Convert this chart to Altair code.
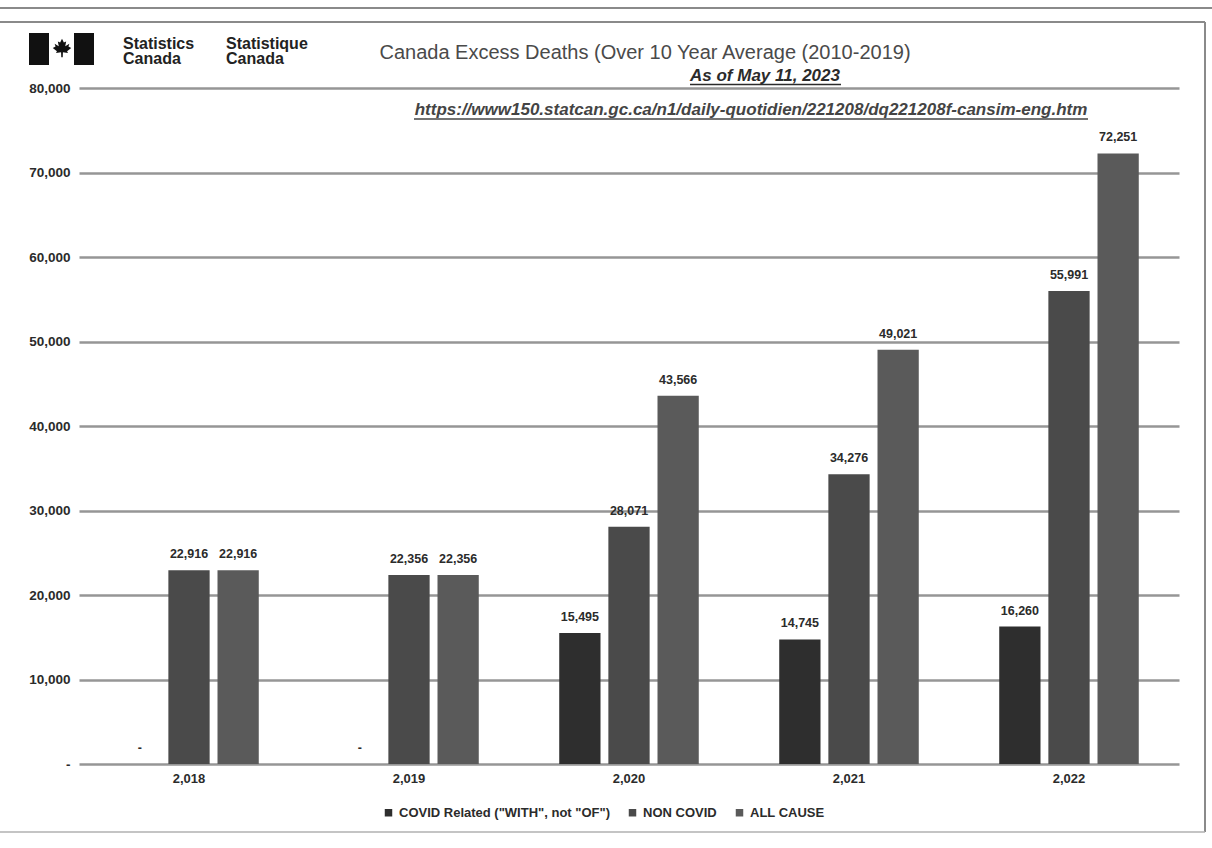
import altair as alt
import pandas as pd

# ---------------- data ----------------
years = ["2,018", "2,019", "2,020", "2,021", "2,022"]
series = ['COVID Related ("WITH", not "OF")', "NON COVID", "ALL CAUSE"]
covid_related = [0, 0, 15495, 14745, 16260]
non_covid = [22916, 22356, 28071, 34276, 55991]
all_cause = [22916, 22356, 43566, 49021, 72251]
y_ticks = [0, 10000, 20000, 30000, 40000, 50000, 60000, 70000, 80000]

title_text = "Canada Excess Deaths (Over 10 Year Average (2010-2019)"
subtitle_text = "As of May 11, 2023"
source_url = "https://www150.statcan.gc.ca/n1/daily-quotidien/221208/dq221208f-cansim-eng.htm"
agency_en = ["Statistics", "Canada"]
agency_fr = ["Statistique", "Canada"]

rows = []
for i, yr in enumerate(years):
    for s, vals in zip(series, [covid_related, non_covid, all_cause]):
        rows.append({"year": yr, "series": s, "value": vals[i]})
df = pd.DataFrame(rows)

# ---------------- style ----------------
FONT = "Liberation Sans"
W, H = 1100, 676
bar_colors = ["#2e2e2e", "#4a4a4a", "#5a5a5a"]
ink = "#2b2b2b"

base = alt.Chart(df).encode(
    x=alt.X(
        "year:N",
        sort=years,
        scale=alt.Scale(paddingInner=0.33, paddingOuter=0.165),
        axis=alt.Axis(
            title=None, domain=False, ticks=False, labelAngle=0, labelPadding=8,
            labelFontSize=13, labelFontWeight="bold", labelColor=ink, labelFont=FONT,
        ),
    ),
    xOffset=alt.XOffset(
        "series:N", sort=series, scale=alt.Scale(paddingInner=0.16, paddingOuter=0.08)
    ),
)

bars = base.mark_bar().encode(
    y=alt.Y(
        "value:Q",
        scale=alt.Scale(domain=[0, 80000], nice=False),
        axis=alt.Axis(
            title=None, values=y_ticks, domain=False, ticks=False,
            labelExpr="datum.value == 0 ? '-' : format(datum.value, ',')",
            labelPadding=9, labelFontSize=13.5, labelFontWeight="bold",
            labelColor=ink, labelFont=FONT,
            grid=True, gridColor="#969696", gridWidth=2.5,
        ),
    ),
    color=alt.Color(
        "series:N",
        sort=series,
        scale=alt.Scale(domain=series, range=bar_colors),
        legend=alt.Legend(
            title=None, orient="none", legendX=303, legendY=718,
            direction="horizontal", symbolType="square", symbolSize=56,
            symbolStrokeWidth=0, labelFontSize=13, labelFontWeight="bold",
            labelFont=FONT, labelColor=ink, columnPadding=16, labelOffset=4,
            labelLimit=0,
        ),
    ),
)

labels = base.mark_text(
    baseline="bottom", dy=-9, font=FONT, fontSize=12.5, fontWeight="bold", color=ink
).transform_calculate(
    lbl="datum.value == 0 ? '-' : format(datum.value, ',')"
).encode(y=alt.Y("value:Q"), text=alt.Text("lbl:N"))

# ---------------- decorations ----------------
one = alt.Data(values=[{"k": 1}])

title_layer = alt.Chart(one).mark_text(
    text=title_text, font=FONT, fontSize=20, color="#4a4a4a",
    align="center", baseline="middle",
).encode(x=alt.value(566), y=alt.value(-35))

subtitle_layer = alt.Chart(one).mark_text(
    text=subtitle_text, font=FONT, fontSize=17, fontWeight="bold",
    fontStyle="italic", color=ink, align="center", baseline="middle",
).encode(x=alt.value(686), y=alt.value(-12))

url_layer = alt.Chart(one).mark_text(
    text=source_url, font=FONT, fontSize=17, fontWeight="bold",
    fontStyle="italic", color="#444444", align="center", baseline="middle",
).encode(x=alt.value(672), y=alt.value(22))

sub_underline = alt.Chart(one).mark_rule(color=ink, strokeWidth=1.5).encode(
    x=alt.value(611), x2=alt.value(762), y=alt.value(-3.5)
)
url_underline = alt.Chart(one).mark_rule(color="#444444", strokeWidth=1.5).encode(
    x=alt.value(335), x2=alt.value(1009), y=alt.value(31)
)

logo_left = alt.Chart(one).mark_rect(color="#111111").encode(
    x=alt.value(-50), x2=alt.value(-30), y=alt.value(-55), y2=alt.value(-23)
)
logo_right = alt.Chart(one).mark_rect(color="#111111").encode(
    x=alt.value(-5), x2=alt.value(15), y=alt.value(-55), y2=alt.value(-23)
)
maple = ("M0,-1 L0.2,-0.6 L0.45,-0.7 L0.35,-0.2 L0.8,-0.45 L0.7,-0.15 L1,0 "
         "L0.55,0.35 L0.65,0.55 L0.1,0.45 L0.08,1 L-0.08,1 L-0.1,0.45 L-0.65,0.55 "
         "L-0.55,0.35 L-1,0 L-0.7,-0.15 L-0.8,-0.45 L-0.35,-0.2 L-0.45,-0.7 L-0.2,-0.6 Z")
logo_leaf = alt.Chart(one).mark_point(
    shape=maple, filled=True, color="#111111", size=340, opacity=1
).encode(x=alt.value(-17), y=alt.value(-40))

agency_en_layer = alt.Chart(one).mark_text(
    text=agency_en, font=FONT, fontSize=16, fontWeight="bold", color="#222222",
    align="left", baseline="top", lineHeight=15,
).encode(x=alt.value(44), y=alt.value(-52))
agency_fr_layer = alt.Chart(one).mark_text(
    text=agency_fr, font=FONT, fontSize=16, fontWeight="bold", color="#222222",
    align="left", baseline="top", lineHeight=15,
).encode(x=alt.value(147), y=alt.value(-52))

frame_top1 = alt.Chart(one).mark_rule(color="#8a8a8a", strokeWidth=2).encode(
    x=alt.value(-79), x2=alt.value(1133), y=alt.value(-80)
)
frame_top2 = alt.Chart(one).mark_rule(color="#8a8a8a", strokeWidth=2).encode(
    x=alt.value(-79), x2=alt.value(1126), y=alt.value(-66)
)
frame_right = alt.Chart(one).mark_rule(color="#8a8a8a", strokeWidth=2).encode(
    x=alt.value(1126), y=alt.value(-66), y2=alt.value(744)
)
frame_bottom = alt.Chart(one).mark_rule(color="#b0b0b0", strokeWidth=1.5).encode(
    x=alt.value(-79), x2=alt.value(1126), y=alt.value(744)
)

chart = alt.layer(
    frame_top1, frame_top2, frame_right, frame_bottom,
    bars, labels,
    title_layer, subtitle_layer, sub_underline, url_layer, url_underline,
    logo_left, logo_right, logo_leaf, agency_en_layer, agency_fr_layer,
).properties(
    width=W, height=H,
    padding={"left": 79, "top": 88, "right": 33, "bottom": 84},
    autosize=alt.AutoSizeParams(type="none"),
    background="white",
).configure_view(stroke=None)

chart.save("out.html", embed_options={"renderer": "svg", "actions": False})
